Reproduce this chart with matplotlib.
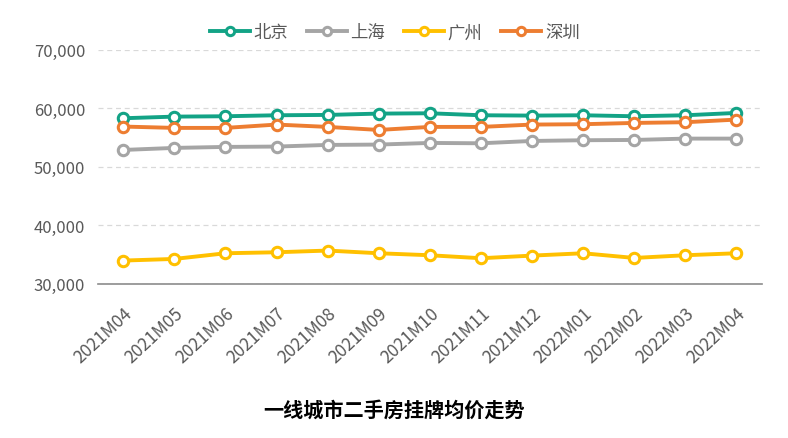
import matplotlib
matplotlib.use("Agg")
import matplotlib.pyplot as plt
from matplotlib.ticker import FuncFormatter

plt.rcParams['font.family'] = ['Noto Sans CJK SC', 'DejaVu Sans']

# data
months = ["2021M04", "2021M05", "2021M06", "2021M07", "2021M08", "2021M09", "2021M10",
          "2021M11", "2021M12", "2022M01", "2022M02", "2022M03", "2022M04"]
beijing = [58320, 58600, 58660, 58830, 58890, 59115, 59170, 58830, 58775, 58830, 58660, 58830, 59230]
shanghai = [52900, 53250, 53420, 53480, 53760, 53820, 54100, 54040, 54440, 54560, 54610, 54840, 54840]
guangzhou = [33990, 34270, 35240, 35410, 35700, 35240, 34900, 34390, 34840, 35240, 34440, 34900, 35240]
shenzhen = [56900, 56670, 56670, 57240, 56840, 56320, 56840, 56840, 57240, 57300, 57520, 57640, 58090]

series = [("北京", beijing, "#13A386"), ("上海", shanghai, "#A5A5A5"),
          ("广州", guangzhou, "#FFC000"), ("深圳", shenzhen, "#ED7D31")]

fig = plt.figure(figsize=(7.88, 4.39), dpi=100)
ax = fig.add_axes([0.124, 0.351, 0.843, 0.533])

x = range(len(months))
for name, vals, col in series:
    ax.plot(x, vals, color=col, lw=2.8, marker="o", ms=7.5, mfc="white",
            mec=col, mew=2.2, label=name, zorder=3)

ax.set_xlim(-0.5, len(months) - 0.5)
ax.set_ylim(30000, 70000)
ax.set_yticks(range(30000, 70001, 10000))
ax.yaxis.set_major_formatter(FuncFormatter(lambda v, p: f"{int(v):,}"))
ax.set_xticks(list(x))
ax.set_xticklabels(months, rotation=43, ha="right", rotation_mode="anchor")

ax.grid(axis="y", color="#D9D9D9", ls=(0, (4, 3)), lw=0.9)
for s in ["top", "right", "left"]:
    ax.spines[s].set_visible(False)
ax.spines["bottom"].set_color("#8C8C8C")
ax.spines["bottom"].set_linewidth(1.2)
ax.tick_params(axis="both", length=0, labelcolor="#595959", labelsize=12.5)
ax.tick_params(axis="x", pad=14)
ax.tick_params(axis="y", labelsize=12, pad=9)

ax.legend(loc="center", bbox_to_anchor=(0.447, 1.075), ncol=4, frameon=False,
          fontsize=12.5, labelcolor="#595959", handlelength=2.3, handletextpad=0.2,
          columnspacing=1.1, markerscale=0.8)

fig.text(0.5, 0.065, "一线城市二手房挂牌均价走势", ha="center", va="center",
         fontsize=14.5, fontweight="bold", color="black")

fig.savefig("out.png", dpi=100)
